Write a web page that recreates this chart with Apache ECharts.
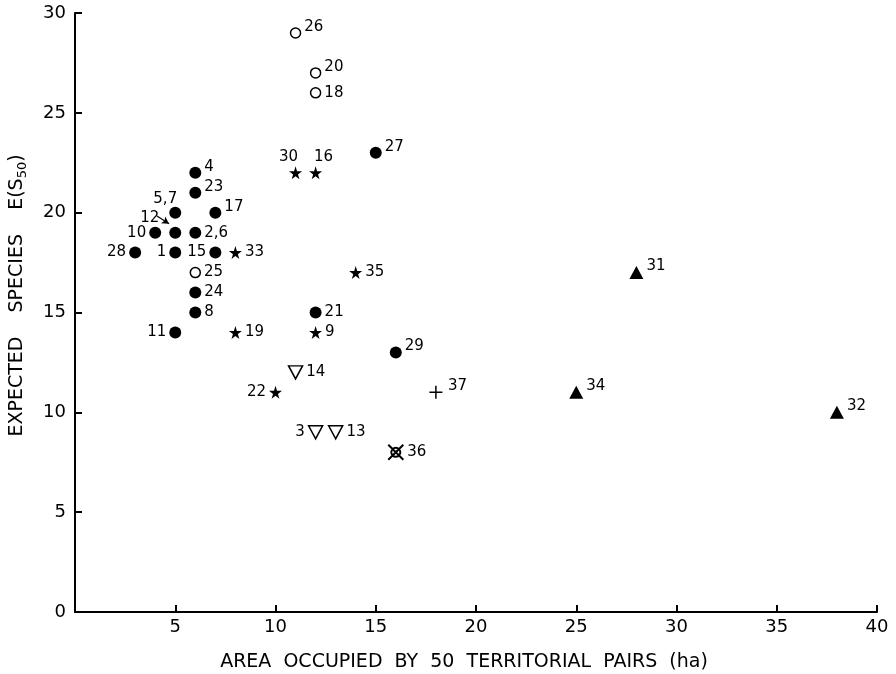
<!DOCTYPE html>
<html>
<head>
<meta charset="utf-8">
<script src="https://cdn.jsdelivr.net/npm/echarts@6/dist/echarts.min.js"></script>
<style>
  html, body { margin: 0; padding: 0; background: #fff; }
  #main { width: 896px; height: 674px; }
</style>
</head>
<body>
<div id="main"></div>
<script>
// [area (ha), expected species, site label]
var filledCircles = [
  [6, 22, '4'], [6, 21, '23'], [5, 20, '5,7'], [7, 20, '17'], [5, 19, '12'],
  [4, 19, '10'], [6, 19, '2,6'], [3, 18, '28'], [5, 18, '1'], [7, 18, '15'],
  [6, 16, '24'], [6, 15, '8'], [12, 15, '21'], [5, 14, '11'], [16, 13, '29'],
  [15, 23, '27']
];
var openCircles = [[11, 29, '26'], [12, 27, '20'], [12, 26, '18'], [6, 17, '25']];
var stars = [[11, 22, '30'], [12, 22, '16'], [8, 18, '33'], [14, 17, '35'], [8, 14, '19'], [12, 14, '9'], [10, 11, '22']];
var openTriangles = [[11, 12, '14'], [12, 9, '3'], [13, 9, '13']];
var filledTriangles = [[28, 17, '31'], [25, 11, '34'], [38, 10, '32']];
var plusPoints = [[18, 11, '37']];
var crossedPoints = [[16, 8, '36']];

var xTicks = [0, 40, 5];   // min, max, interval
var yTicks = [0, 30, 5];

// where each point's number sits
var labelSide = {
  '4': 'ru', '23': 'ru', '5,7': 't57', '17': 'ru', '12': 'arrow', '10': 'l', '2,6': 'r',
  '28': 'l', '1': 'l', '15': 'l', '24': 'r', '8': 'r', '21': 'r', '11': 'l', '29': 'ru',
  '27': 'ru', '26': 'ru', '20': 'ru', '18': 'r', '25': 'r', '30': 'tl', '16': 'tr',
  '33': 'r', '35': 'r', '19': 'r', '9': 'r', '22': 'l', '14': 'r', '3': 'l', '13': 'r',
  '31': 'ru', '34': 'ru', '32': 'ru', '37': 'ru', '36': 'r'
};

var FONT = 'DejaVu Sans';

function labelFor(name) {
  var s = labelSide[name] || 'r';
  var l = { show: true, formatter: name, color: '#000', fontFamily: FONT, fontSize: 15, distance: 3 };
  if (s === 'r') { l.position = 'right'; }
  else if (s === 'ru') { l.position = 'right'; l.offset = [0, -6]; }
  else if (s === 'l') { l.position = 'left'; }
  else if (s === 't57') { l.position = 'top'; l.offset = [-10, 3]; }
  else if (s === 'tl') { l.position = 'top'; l.offset = [-7, 1]; }
  else if (s === 'tr') { l.position = 'top'; l.offset = [8, 1]; }
  else if (s === 'arrow') { l.position = 'left'; l.offset = [-7, -15]; }
  return l;
}

function toData(arr) {
  return arr.map(function (d) {
    return { value: [d[0], d[1]], label: labelFor(d[2]) };
  });
}

var starPath = 'path://M50,0 L61,35 L98,35 L68,57 L79,91 L50,70 L21,91 L32,57 L2,35 L39,35 Z';
var plusPath = 'path://M10,0 L10,20 M0,10 L20,10';
var crossPath = 'path://M0,0 L20,20 M20,0 L0,20 M4,10 A6,6 0 1,1 16,10 A6,6 0 1,1 4,10 Z';

var dom = document.getElementById('main');
var myChart = echarts.init(dom, null, { renderer: 'canvas' });

var axisCommon = {
  axisLine: { show: true, lineStyle: { color: '#000', width: 2 } },
  axisTick: { show: true, inside: true, length: 7, lineStyle: { color: '#000', width: 2 } },
  splitLine: { show: false },
  axisLabel: { color: '#000', fontFamily: FONT, fontSize: 18 }
};

var option = {
  backgroundColor: '#fff',
  animation: false,
  grid: { left: 75, right: 19, top: 13, bottom: 62, outerBoundsMode: 'none' },
  xAxis: Object.assign({}, axisCommon, {
    type: 'value', min: xTicks[0], max: xTicks[1], interval: xTicks[2],
    axisLabel: Object.assign({}, axisCommon.axisLabel, { margin: 6, showMinLabel: false }),
    name: 'AREA  OCCUPIED  BY  50  TERRITORIAL  PAIRS  (ha)',
    nameLocation: 'middle', nameGap: 41,
    nameTextStyle: { color: '#000', fontFamily: FONT, fontSize: 19, padding: [0, 24, 0, 0] }
  }),
  yAxis: Object.assign({}, axisCommon, {
    type: 'value', min: yTicks[0], max: yTicks[1], interval: yTicks[2],
    axisLabel: Object.assign({}, axisCommon.axisLabel, { margin: 9 }),
    name: 'EXPECTED    SPECIES    E(S{sub|50})',
    nameLocation: 'middle', nameGap: 46,
    nameTextStyle: {
      color: '#000', fontFamily: FONT, fontSize: 19, padding: [0, 0, 0, 34],
      rich: { sub: { fontFamily: FONT, fontSize: 13, verticalAlign: 'bottom', padding: [10, 0, 0, 0] } }
    }
  }),
  series: [
    {
      type: 'scatter', symbol: 'circle', symbolSize: 12,
      itemStyle: { color: '#000', opacity: 1 },
      data: toData(filledCircles),
      markLine: {
        silent: true, symbol: ['none', 'arrow'], symbolSize: [6, 7],
        lineStyle: { color: '#000', width: 1.2, type: 'solid' },
        label: { show: false },
        data: [[{ coord: [4.09, 19.83] }, { coord: [4.69, 19.45] }]]
      }
    },
    {
      type: 'scatter', symbol: 'circle', symbolSize: 10,
      itemStyle: { color: '#fff', borderColor: '#000', borderWidth: 1.5, opacity: 1 },
      data: toData(openCircles)
    },
    {
      type: 'scatter', symbol: starPath, symbolSize: 13,
      itemStyle: { color: '#000', opacity: 1 },
      data: toData(stars)
    },
    {
      type: 'scatter', symbol: 'triangle', symbolRotate: 180, symbolSize: [14, 13],
      itemStyle: { color: '#fff', borderColor: '#000', borderWidth: 1.5, opacity: 1 },
      data: toData(openTriangles)
    },
    {
      type: 'scatter', symbol: 'triangle', symbolSize: [14, 13],
      itemStyle: { color: '#000', opacity: 1 },
      data: toData(filledTriangles)
    },
    {
      type: 'scatter', symbol: plusPath, symbolSize: 13,
      itemStyle: { color: 'none', borderColor: '#000', borderWidth: 1.5, opacity: 1 },
      data: toData(plusPoints)
    },
    {
      type: 'scatter', symbol: crossPath, symbolSize: 15,
      itemStyle: { color: '#fff', borderColor: '#000', borderWidth: 2, opacity: 1 },
      data: toData(crossedPoints)
    }
  ]
};

if (option && typeof option === 'object') {
  myChart.setOption(option);
}
</script>
</body>
</html>
